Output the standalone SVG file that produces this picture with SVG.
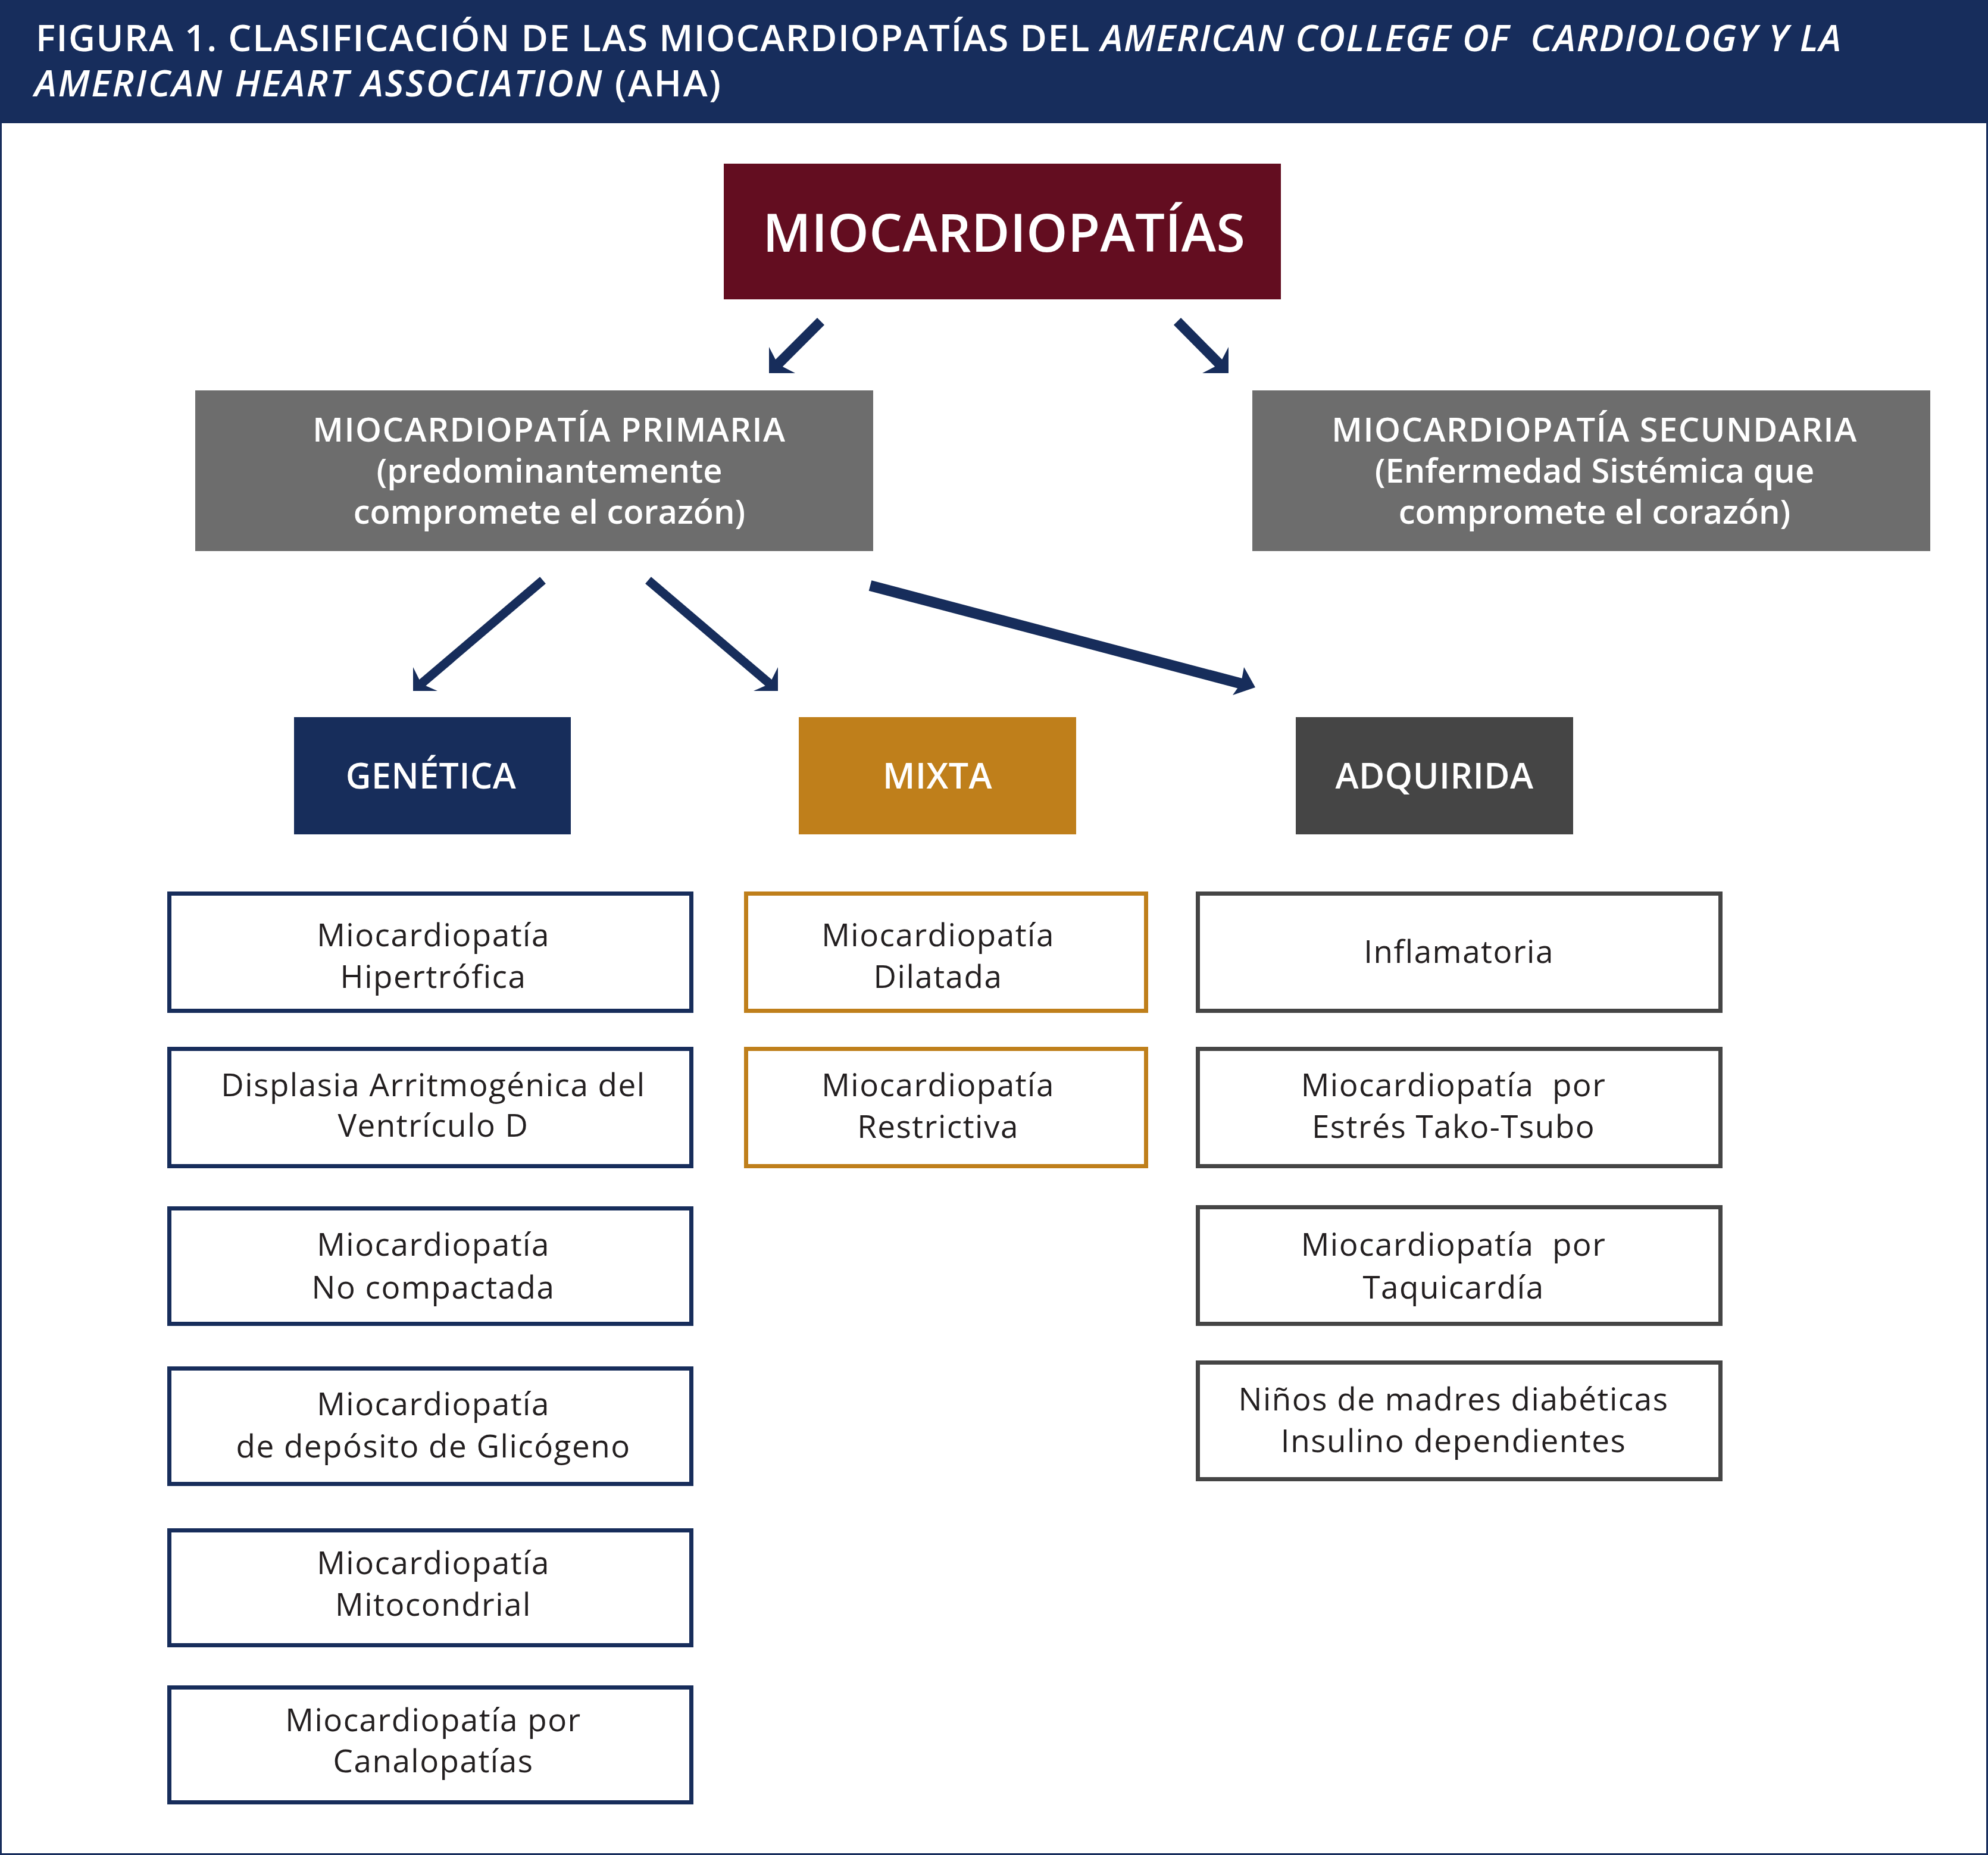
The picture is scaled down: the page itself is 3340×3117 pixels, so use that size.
<svg xmlns="http://www.w3.org/2000/svg" width="3340" height="3117" viewBox="0 0 3340 3117">
<style>
.title{font-family:"Open Sans","Liberation Sans",sans-serif;font-weight:600;font-size:62px;fill:#ffffff}
.it{font-style:italic}
.main{font-family:"Open Sans","Liberation Sans",sans-serif;font-weight:600;font-size:88px;fill:#ffffff;text-anchor:middle;letter-spacing:0.5px}
.grey{font-family:"Open Sans","Liberation Sans",sans-serif;font-weight:600;font-size:56px;fill:#ffffff;text-anchor:middle;letter-spacing:1.5px}
.tight{letter-spacing:0px}
.cat{font-family:"Open Sans","Liberation Sans",sans-serif;font-weight:600;font-size:59px;fill:#ffffff;text-anchor:middle;letter-spacing:0.5px}
.leaf{font-family:"Open Sans","Liberation Sans",sans-serif;font-weight:400;font-size:53px;fill:#231f20;text-anchor:middle;letter-spacing:1.5px}
.lg{fill:#ffffff;stroke:#172d5b;stroke-width:7}
.lm{fill:#ffffff;stroke:#bf7f1b;stroke-width:7}
.la{fill:#ffffff;stroke:#454545;stroke-width:7}
.stem{stroke:#172d5b;fill:none;stroke-linecap:butt}
.head{fill:#172d5b}
</style>
<rect x="0" y="0" width="3340" height="3117" fill="#ffffff"/>
<rect x="0" y="0" width="3340" height="207" fill="#172d5c"/>
<rect x="0" y="0" width="3340" height="3117" fill="none" stroke="#172d5c" stroke-width="6"/>
<g id="title">
<text class="title" x="60" y="86" xml:space="preserve" textLength="3033">FIGURA 1. CLASIFICACIÓN DE LAS MIOCARDIOPATÍAS DEL <tspan class="it">AMERICAN COLLEGE OF  CARDIOLOGY Y LA</tspan></text>
<text class="title" x="58" y="162" textLength="1153"><tspan class="it">AMERICAN HEART ASSOCIATION</tspan> (AHA)</text>
</g>
<g id="connectors">
<line class="stem" x1="1379" y1="540" x2="1301" y2="618" stroke-width="17"/>
<polygon class="head" points="1292,627 1292,583 1307,612 1336,627"/>
<line class="stem" x1="1978" y1="540" x2="2055" y2="618" stroke-width="17"/>
<polygon class="head" points="2064,627 2064,583 2049,612 2020,627"/>
<line class="stem" x1="912" y1="975" x2="703" y2="1153" stroke-width="15"/>
<polygon class="head" points="694,1161 694,1121 708,1149 735,1161"/>
<line class="stem" x1="1089" y1="975" x2="1298" y2="1153" stroke-width="15"/>
<polygon class="head" points="1307,1161 1307,1121 1293,1149 1266,1161"/>
<line class="stem" x1="1462" y1="984" x2="2090" y2="1150" stroke-width="18"/>
<polygon class="head" points="2109,1155 2090,1121 2085,1148 2071,1168"/>
</g>
<g id="node-miocardiopatias">
<rect x="1216" y="275" width="936" height="228" fill="#630d20"/>
<text class="main" x="1687" y="423">MIOCARDIOPATÍAS</text>
</g>
<g id="node-primaria">
<rect x="328" y="656" width="1139" height="270" fill="#6d6d6d"/>
<text class="grey" x="923" y="742">MIOCARDIOPATÍA PRIMARIA</text>
<text class="grey tight" x="923" y="811">(predominantemente</text>
<text class="grey tight" x="923" y="880">compromete el corazón)</text>
</g>
<g id="node-secundaria">
<rect x="2104" y="656" width="1139" height="270" fill="#6d6d6d"/>
<text class="grey" x="2679" y="742">MIOCARDIOPATÍA SECUNDARIA</text>
<text class="grey tight" x="2679" y="811">(Enfermedad Sistémica que</text>
<text class="grey tight" x="2679" y="880">compromete el corazón)</text>
</g>
<g id="node-genetica">
<rect x="494" y="1205" width="465" height="197" fill="#172d5b"/>
<text class="cat" x="724" y="1325">GENÉTICA</text>
</g>
<g id="node-mixta">
<rect x="1342" y="1205" width="466" height="197" fill="#bf7f1b"/>
<text class="cat" x="1575" y="1325">MIXTA</text>
</g>
<g id="node-adquirida">
<rect x="2177" y="1205" width="466" height="197" fill="#454545"/>
<text class="cat" x="2410" y="1325">ADQUIRIDA</text>
</g>
<g id="node-g1">
<rect class="lg" x="284.5" y="1501.5" width="877" height="197"/>
<text class="leaf" x="728" y="1590">Miocardiopatía</text>
<text class="leaf" x="728" y="1660">Hipertrófica</text>
</g>
<g id="node-g2">
<rect class="lg" x="284.5" y="1762.5" width="877" height="197"/>
<text class="leaf" x="728" y="1842">Displasia Arritmogénica del</text>
<text class="leaf" x="728" y="1910">Ventrículo D</text>
</g>
<g id="node-g3">
<rect class="lg" x="284.5" y="2030.5" width="877" height="194"/>
<text class="leaf" x="728" y="2110">Miocardiopatía</text>
<text class="leaf" x="728" y="2182">No compactada</text>
</g>
<g id="node-g4">
<rect class="lg" x="284.5" y="2299.5" width="877" height="194"/>
<text class="leaf" x="728" y="2378">Miocardiopatía</text>
<text class="leaf" x="728" y="2449">de depósito de Glicógeno</text>
</g>
<g id="node-g5">
<rect class="lg" x="284.5" y="2571.5" width="877" height="193"/>
<text class="leaf" x="728" y="2645">Miocardiopatía</text>
<text class="leaf" x="728" y="2715">Mitocondrial</text>
</g>
<g id="node-g6">
<rect class="lg" x="284.5" y="2835.5" width="877" height="193"/>
<text class="leaf" x="728" y="2909">Miocardiopatía por</text>
<text class="leaf" x="728" y="2978">Canalopatías</text>
</g>
<g id="node-m1">
<rect class="lm" x="1253.5" y="1501.5" width="672" height="197"/>
<text class="leaf" x="1576" y="1590">Miocardiopatía</text>
<text class="leaf" x="1576" y="1660">Dilatada</text>
</g>
<g id="node-m2">
<rect class="lm" x="1253.5" y="1762.5" width="672" height="197"/>
<text class="leaf" x="1576" y="1842">Miocardiopatía</text>
<text class="leaf" x="1576" y="1912">Restrictiva</text>
</g>
<g id="node-a1">
<rect class="la" x="2012.5" y="1501.5" width="878" height="197"/>
<text class="leaf" x="2451" y="1618">Inflamatoria</text>
</g>
<g id="node-a2">
<rect class="la" x="2012.5" y="1762.5" width="878" height="197"/>
<text class="leaf" x="2442" y="1842" xml:space="preserve">Miocardiopatía  por</text>
<text class="leaf" x="2442" y="1912">Estrés Tako-Tsubo</text>
</g>
<g id="node-a3">
<rect class="la" x="2012.5" y="2028.5" width="878" height="196"/>
<text class="leaf" x="2442" y="2110" xml:space="preserve">Miocardiopatía  por</text>
<text class="leaf" x="2442" y="2182">Taquicardía</text>
</g>
<g id="node-a4">
<rect class="la" x="2012.5" y="2289.5" width="878" height="196"/>
<text class="leaf" x="2442" y="2370">Niños de madres diabéticas</text>
<text class="leaf" x="2442" y="2440">Insulino dependientes</text>
</g>
</svg>
